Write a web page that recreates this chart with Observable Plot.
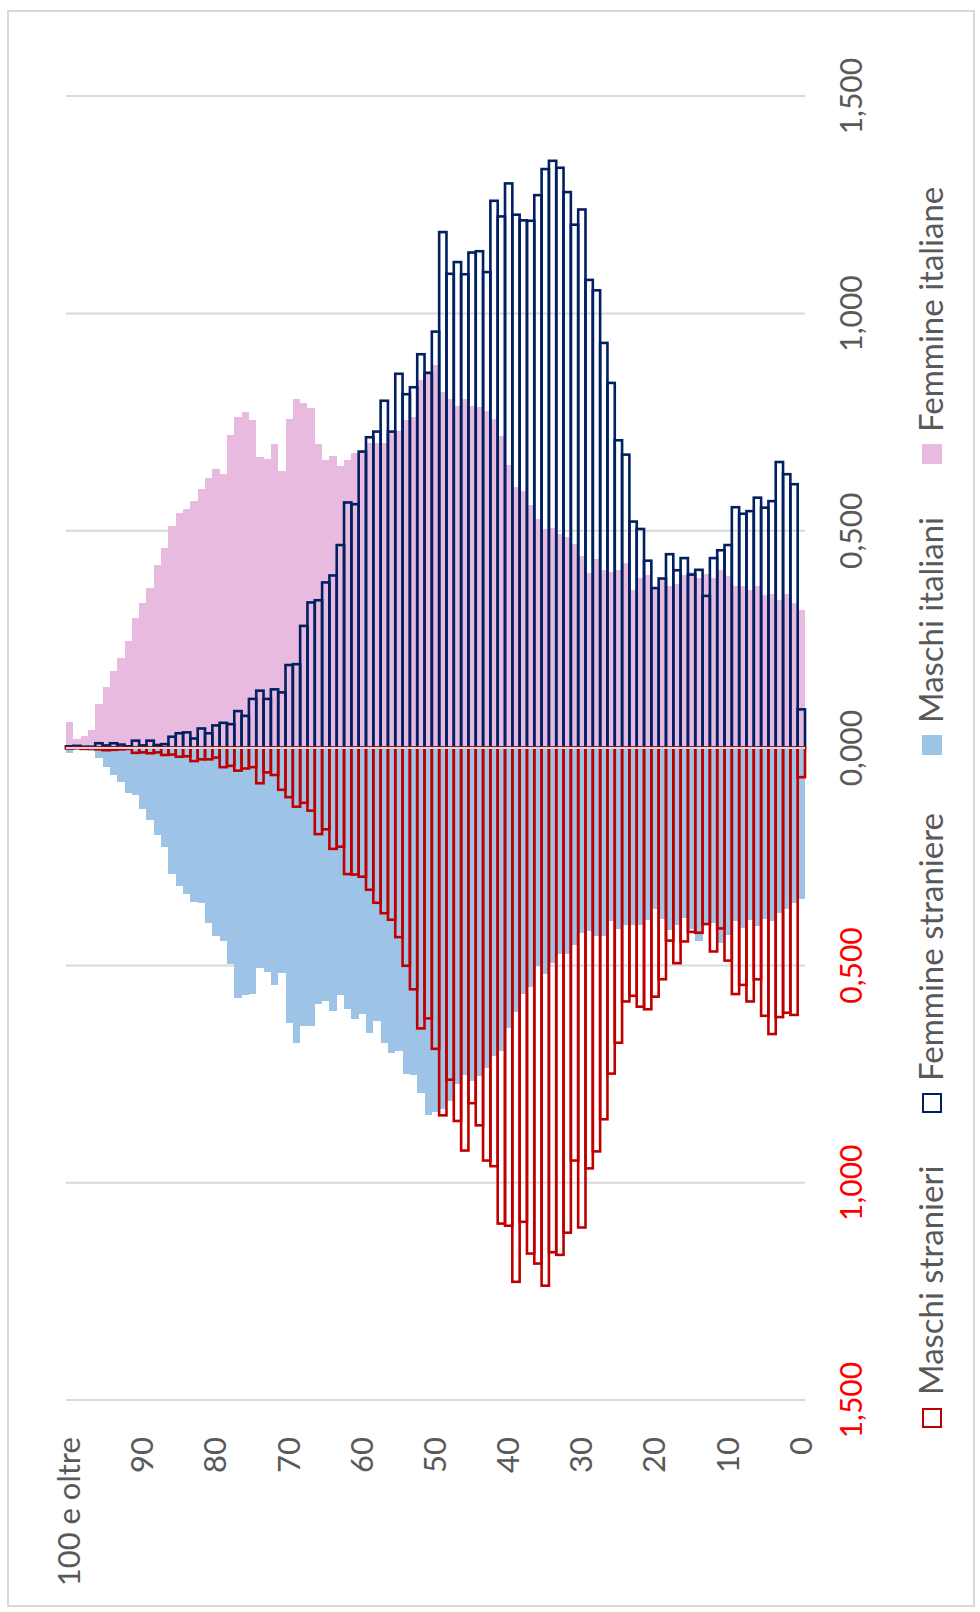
<!DOCTYPE html>
<html>
<head>
<meta charset="utf-8">
<script src="https://cdn.jsdelivr.net/npm/d3@7"></script>
<script src="https://cdn.jsdelivr.net/npm/@observablehq/plot@0.6"></script>
<style>
  html, body { margin: 0; padding: 0; background: #fff; }
  #wrap { position: relative; width: 980px; height: 1612px; overflow: hidden; font-family: Lato, "Open Sans", sans-serif; }
  #frame { position: absolute; left: 7px; top: 10px; width: 968px; height: 1597px; border: 2px solid #d9d9d9; box-sizing: border-box; }
  #chart { position: absolute; left: 0; top: 0; }
  #legend { position: absolute; left: 910px; top: 1428px; width: 1300px; height: 44px; transform-origin: 0 0; transform: rotate(-90deg); color: #595959; font-size: 33px; white-space: nowrap; }
  #legend .sw { position: absolute; top: 12px; width: 20px; height: 20px; box-sizing: border-box; }
  #legend .lb { position: absolute; top: 4px; line-height: 33px; }
</style>
</head>
<body>
<div id="wrap">
  <div id="frame"></div>
  <div id="chart"></div>
  <div id="legend"></div>
</div>
<script>
// Age classes (left to right)
const ages = ["100 e oltre","99","98","97","96","95","94","93","92","91",
  "90","89","88","87","86","85","84","83","82","81",
  "80","79","78","77","76","75","74","73","72","71",
  "70","69","68","67","66","65","64","63","62","61",
  "60","59","58","57","56","55","54","53","52","51",
  "50","49","48","47","46","45","44","43","42","41",
  "40","39","38","37","36","35","34","33","32","31",
  "30","29","28","27","26","25","24","23","22","21",
  "20","19","18","17","16","15","14","13","12","11",
  "10","9","8","7","6","5","4","3","2","1","0"];

const ageTicks = ["100 e oltre","90","80","70","60","50","40","30","20","10","0"];
const valueTicksUp = [0, 0.5, 1, 1.5];
const valueTicksDown = [-0.5, -1, -1.5];
const gridTicks = [-1.5, -1, -0.5, 0.5, 1, 1.5];

// Femmine italiane (age 100 -> 0)
const femmineItaliane = [
  0.060,0.019,0.027,0.040,0.101,0.139,0.177,0.207,0.245,0.298,
  0.332,0.367,0.420,0.460,0.510,0.539,0.550,0.567,0.595,0.620,
  0.642,0.629,0.719,0.761,0.771,0.754,0.668,0.665,0.698,0.636,
  0.755,0.803,0.792,0.781,0.698,0.662,0.671,0.648,0.662,0.678,
  0.685,0.700,0.700,0.700,0.729,0.729,0.754,0.760,0.845,0.867,
  0.881,0.818,0.802,0.787,0.803,0.786,0.784,0.775,0.756,0.717,
  0.650,0.599,0.591,0.557,0.526,0.502,0.505,0.491,0.485,0.468,
  0.441,0.402,0.435,0.409,0.404,0.409,0.424,0.363,0.391,0.396,
  0.367,0.391,0.372,0.377,0.396,0.405,0.391,0.400,0.391,0.408,
  0.394,0.372,0.372,0.363,0.372,0.352,0.353,0.339,0.353,0.332,
  0.316];

// Femmine straniere (age 100 -> 0)
const femmineStraniere = [
  0.003,0.004,0.002,0.002,0.010,0.005,0.010,0.007,0.003,0.016,
  0.005,0.016,0.006,0.008,0.025,0.033,0.035,0.021,0.044,0.033,
  0.051,0.057,0.054,0.084,0.073,0.112,0.131,0.112,0.134,0.127,
  0.190,0.192,0.280,0.334,0.339,0.380,0.396,0.466,0.564,0.560,
  0.681,0.714,0.727,0.798,0.727,0.860,0.813,0.829,0.905,0.862,
  0.957,1.186,1.090,1.117,1.089,1.139,1.142,1.094,1.258,1.222,
  1.298,1.226,1.213,1.212,1.271,1.331,1.350,1.334,1.278,1.203,
  1.238,1.076,1.052,0.931,0.839,0.707,0.674,0.520,0.503,0.430,
  0.367,0.389,0.445,0.408,0.436,0.398,0.409,0.349,0.436,0.454,
  0.466,0.553,0.538,0.544,0.575,0.552,0.567,0.657,0.629,0.606,
  0.088];

// Maschi italiani (age 100 -> 0)
const maschiItaliani = [
  0.012,0.006,0.006,0.007,0.025,0.045,0.063,0.079,0.104,0.108,
  0.142,0.167,0.202,0.229,0.291,0.318,0.337,0.356,0.357,0.404,
  0.433,0.444,0.498,0.575,0.569,0.566,0.506,0.517,0.546,0.519,
  0.634,0.679,0.640,0.641,0.590,0.584,0.607,0.569,0.602,0.625,
  0.613,0.656,0.629,0.679,0.702,0.698,0.752,0.753,0.795,0.845,
  0.838,0.832,0.812,0.774,0.753,0.766,0.755,0.738,0.710,0.697,
  0.646,0.608,0.567,0.550,0.503,0.520,0.495,0.474,0.474,0.453,
  0.427,0.421,0.434,0.434,0.400,0.418,0.408,0.408,0.408,0.397,
  0.372,0.395,0.420,0.408,0.393,0.418,0.444,0.408,0.404,0.449,
  0.431,0.400,0.416,0.397,0.410,0.395,0.398,0.381,0.372,0.358,
  0.348];

// Maschi stranieri (age 100 -> 0)
const maschiStranieri = [
  0.002,0.001,0.003,0.002,0.004,0.006,0.005,0.004,0.003,0.012,
  0.011,0.013,0.011,0.017,0.016,0.021,0.020,0.031,0.027,0.027,
  0.023,0.045,0.042,0.053,0.048,0.045,0.082,0.057,0.063,0.097,
  0.114,0.136,0.127,0.145,0.199,0.188,0.233,0.228,0.291,0.292,
  0.297,0.327,0.357,0.381,0.396,0.436,0.502,0.556,0.646,0.623,
  0.693,0.846,0.764,0.859,0.927,0.818,0.869,0.950,0.963,1.095,
  1.100,1.229,1.091,1.164,1.187,1.238,1.161,1.167,1.116,0.950,
  1.104,0.968,0.929,0.855,0.750,0.679,0.584,0.571,0.596,0.602,
  0.573,0.533,0.444,0.496,0.446,0.424,0.426,0.406,0.469,0.416,
  0.490,0.567,0.546,0.584,0.533,0.617,0.659,0.620,0.610,0.615,
  0.068];

const legendItems = [
  {label: "Maschi stranieri", kind: "outline", color: "#c00000", sw: 0, lb: 33},
  {label: "Femmine straniere", kind: "outline", color: "#002060", sw: 315, lb: 347},
  {label: "Maschi italiani", kind: "fill", color: "#9dc3e6", sw: 673, lb: 705},
  {label: "Femmine italiane", kind: "fill", color: "#e8badf", sw: 964, lb: 996}
];

const rows = (arr, sign) => ages.map((age, i) => ({age, v: sign * arr[i]}));
const fmt = d => d3.format(".3f")(Math.abs(d)).replace(".", ",");

const chart = Plot.plot({
  width: 980,
  height: 1612,
  marginLeft: 66,
  marginRight: 175,
  marginTop: 95.6,
  marginBottom: 212.4,
  style: {fontFamily: "Lato, 'Open Sans', sans-serif", background: "transparent", color: "#595959"},
  x: {type: "band", domain: ages, padding: 0, axis: null},
  y: {domain: [-1.5, 1.5], axis: null},
  marks: [
    Plot.ruleY(gridTicks, {stroke: "#d9d9d9", strokeWidth: 2}),
    Plot.barY(rows(femmineItaliane, 1), {x: "age", y: "v", fill: "#e8badf", inset: 0, shapeRendering: "crispEdges"}),
    Plot.barY(rows(maschiItaliani, -1), {x: "age", y: "v", fill: "#9dc3e6", inset: 0, shapeRendering: "crispEdges"}),
    Plot.barY(rows(femmineStraniere, 1), {x: "age", y: "v", fill: "none", stroke: "#002060", strokeWidth: 2.6, inset: 0}),
    Plot.barY(rows(maschiStranieri, -1), {x: "age", y: "v", fill: "none", stroke: "#c00000", strokeWidth: 2.6, inset: 0}),
    Plot.ruleY([0], {stroke: "#d9d9d9", strokeWidth: 2}),
    Plot.axisX({ticks: ageTicks, tickSize: 0, tickPadding: 37, tickRotate: -90, fontSize: 31, color: "#595959", label: null}),
    Plot.axisY({anchor: "right", ticks: valueTicksUp, tickFormat: fmt, tickSize: 0, tickPadding: 35, tickRotate: -90, textAnchor: "middle", lineAnchor: "top", fontSize: 30, color: "#595959", label: null}),
    Plot.axisY({anchor: "right", ticks: valueTicksDown, tickFormat: fmt, tickSize: 0, tickPadding: 35, tickRotate: -90, textAnchor: "middle", lineAnchor: "top", fontSize: 30, color: "#ff0000", label: null})
  ]
});
document.getElementById("chart").appendChild(chart);

const legend = document.getElementById("legend");
for (const it of legendItems) {
  const sw = document.createElement("span");
  sw.className = "sw";
  sw.style.left = it.sw + "px";
  if (it.kind === "outline") { sw.style.border = "2px solid " + it.color; sw.style.background = "#fff"; }
  else { sw.style.background = it.color; }
  legend.appendChild(sw);
  const lb = document.createElement("span");
  lb.className = "lb";
  lb.style.left = it.lb + "px";
  lb.textContent = it.label;
  legend.appendChild(lb);
}
</script>
</body>
</html>
